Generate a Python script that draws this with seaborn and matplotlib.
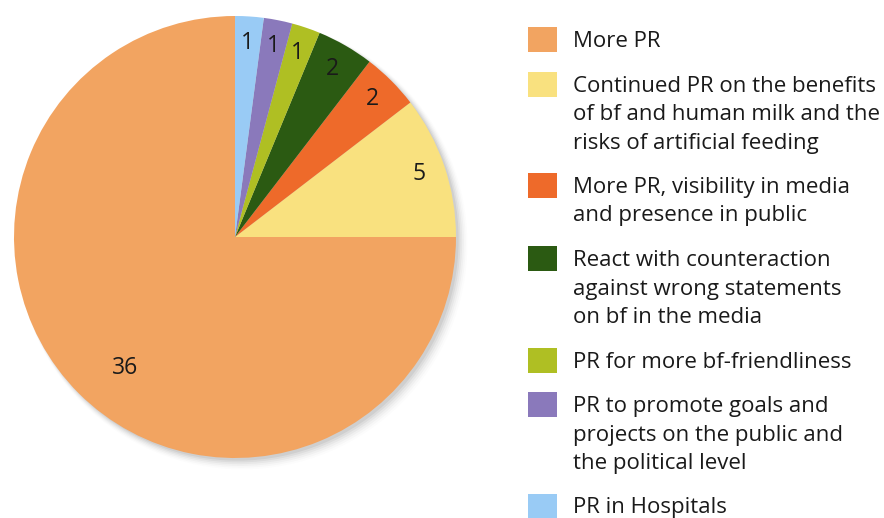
import matplotlib
matplotlib.use("Agg")
import matplotlib.pyplot as plt
from matplotlib.patches import Rectangle
import seaborn as sns
import numpy as np

categories = [
    "More PR",
    "Continued PR on the benefits\nof bf and human milk and the\nrisks of artificial feeding",
    "More PR, visibility in media\nand presence in public",
    "React with counteraction\nagainst wrong statements\non bf in the media",
    "PR for more bf-friendliness",
    "PR to promote goals and\nprojects on the public and\nthe political level",
    "PR in Hospitals",
]
values = [36, 5, 2, 2, 1, 1, 1]
colors = ["#F2A461", "#F9E17F", "#EE6A2A", "#2B5A12", "#AFBF23", "#8A79BB", "#99CBF5"]

sns.set_theme(style="white")
plt.rcParams["font.family"] = ["Open Sans", "DejaVu Sans"]
palette = sns.color_palette(colors)

W, H = 884, 518
fig = plt.figure(figsize=(W / 100, H / 100), dpi=100)
fig.patch.set_facecolor("white")

cx, cy, r = 235, 237, 221
ax = fig.add_axes([(cx - r) / W, (H - cy - r) / H, 2 * r / W, 2 * r / H])

# soft shadow
for i, a in enumerate(np.linspace(0.05, 0.01, 6)):
    c = plt.Circle((0.012 + i * 0.004, -0.012 - i * 0.004), 1.0 + i * 0.004,
                   color="black", alpha=a, lw=0, zorder=0, clip_on=False)
    ax.add_patch(c)

wedges, texts = ax.pie(values, colors=palette, startangle=90, counterclock=True,
                       labels=[str(v) for v in values], labeldistance=0.88,
                       textprops=dict(fontsize=16.5, color="#1a1a1a", ha="center", va="center"),
                       wedgeprops=dict(linewidth=0))
for w in wedges:
    w.set_zorder(2)
for t, w in zip(texts, wedges):
    t.set_zorder(3)
    t.set_horizontalalignment("center")
    t.set_verticalalignment("center")
    if w.theta2 - w.theta1 > 180:
        ang = np.deg2rad((w.theta1 + w.theta2) / 2 + 5)
        t.set_position((0.775 * np.cos(ang), 0.775 * np.sin(ang)))
ax.set_xlim(-1, 1)
ax.set_ylim(-1, 1)
ax.set_aspect("equal")
ax.axis("off")

# legend drawn manually so squares align with first text line
x_sq, sq_w, sq_h = 528, 29, 25
x_txt = 573
line_h = 28.5
gap = 16
y = 39.5  # center of first square (pixels from top)
for lab, col in zip(categories, palette):
    lines = lab.split("\n")
    fig.patches.append(Rectangle((x_sq / W, (H - y - sq_h / 2) / H), sq_w / W, sq_h / H,
                                 transform=fig.transFigure, facecolor=col, edgecolor="none"))
    for k, ln in enumerate(lines):
        fig.text(x_txt / W, (H - y - 2 - k * line_h) / H, ln, fontsize=16, color="#1a1a1a",
                 ha="left", va="center")
    y += len(lines) * line_h + gap

fig.savefig("out.png", dpi=100, facecolor="white")
